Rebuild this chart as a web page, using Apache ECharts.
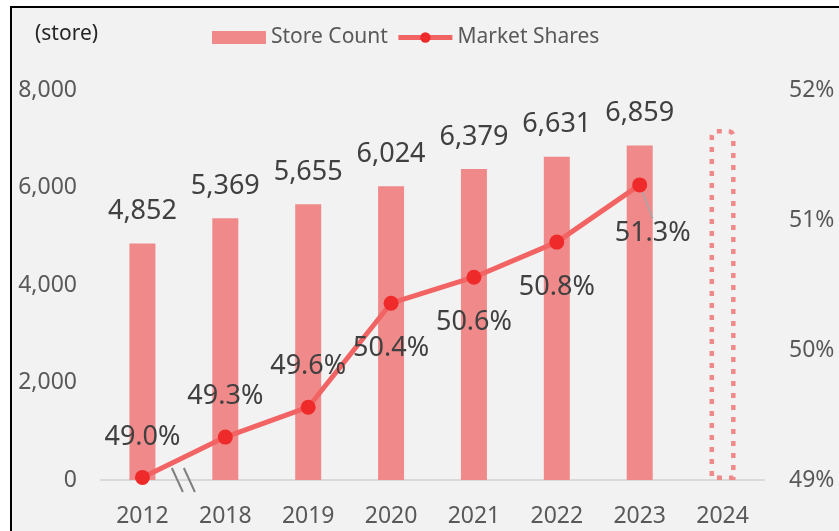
<!DOCTYPE html>
<html lang="en">
<head>
<meta charset="utf-8">
<title>Store Count and Market Shares</title>
<style>
    html, body { margin: 0; height: 100%; background: #fff; overflow: hidden; }
    .frame {
        position: absolute; left: 10px; top: 6px;
        width: 900px; height: 600px;
        background: #f2f2f2;
        border: 2px solid #000;
    }
    #main { position: absolute; left: 0; top: 0; width: 839px; height: 531px; }
</style>
<script src="https://cdn.jsdelivr.net/npm/echarts@6/dist/echarts.min.js"></script>
</head>
<body>
<div class="frame"></div>
<div id="main"></div>
<script>
    // data
    const years = ['2012', '2018', '2019', '2020', '2021', '2022', '2023', '2024'];
    const storeCount = [4852, 5369, 5655, 6024, 6379, 6631, 6859];
    const forecast2024 = 7200;   // dotted outline, no label
    const marketShares = [49.02, 49.33, 49.56, 50.36, 50.56, 50.83, 51.27];
    const leftTicks = [0, 8000, 2000];
    const rightTicks = [49, 52, 1];

    const barColor = '#f08a8a';
    const lineColor = '#f26464';
    const font = '"Noto Sans", sans-serif';

    var chart = echarts.init(document.getElementById('main'), null, { renderer: 'canvas' });

    const barData = storeCount.map(function (v) { return v; });
    barData.push({
        value: forecast2024,
        itemStyle: {
            color: 'rgba(0,0,0,0)',
            borderColor: barColor,
            borderWidth: 4.5,
            borderType: [5, 7],
            borderRadius: [5, 5, 0, 0]
        },
        label: { show: false }
    });

    // label placement per point: above for the first three, below for the rest
    const lineData = marketShares.map(function (v, i) {
        if (i < 3) {
            return { value: v, label: { position: 'top', distance: 18 } };
        }
        return { value: v, label: { position: 'bottom', distance: 23 } };
    });
    lineData[6].labelLine = { show: true, lineStyle: { color: '#a6a6a6', width: 1.5 } };

    const storeLabel = {
        type: 'text',
        left: 35,
        top: 24,
        style: { text: '(store)', fontSize: 21, fill: '#262626', fontFamily: font }
    };

    var option = {
        backgroundColor: 'transparent',
        textStyle: { fontFamily: font },
        animation: false,
        grid: { left: 101, right: 75, top: 90, bottom: 51 },
        legend: {
            top: 22,
            left: 207,
            itemWidth: 54,
            itemHeight: 13,
            itemGap: 8,
            textStyle: { fontSize: 21, color: '#595959', fontFamily: font },
            data: [
                { name: 'Store Count', icon: 'rect' },
                { name: 'Market Shares', lineStyle: { width: 5, color: lineColor } }
            ]
        },
        graphic: [storeLabel],
        xAxis: {
            type: 'category',
            data: years,
            axisLine: { lineStyle: { color: '#d9d9d9', width: 2 } },
            axisTick: { show: false },
            axisLabel: { color: '#595959', fontSize: 23, margin: 25, fontFamily: font }
        },
        yAxis: [{
            type: 'value',
            min: leftTicks[0], max: leftTicks[1], interval: leftTicks[2],
            splitLine: { show: false },
            axisLine: { show: false },
            axisTick: { show: false },
            axisLabel: {
                color: '#595959', fontSize: 23, margin: 24, fontFamily: font,
                formatter: function (v) { return v.toLocaleString('en-US'); }
            }
        }, {
            type: 'value',
            min: rightTicks[0], max: rightTicks[1], interval: rightTicks[2],
            splitLine: { show: false },
            axisLine: { show: false },
            axisTick: { show: false },
            axisLabel: {
                color: '#595959', fontSize: 23, margin: 25, fontFamily: font,
                formatter: '{value}%'
            }
        }],
        series: [{
            name: 'Store Count',
            type: 'bar',
            barWidth: 26,
            itemStyle: { color: barColor },
            label: {
                show: true,
                position: 'top',
                distance: 17,
                fontSize: 27,
                lineHeight: 30,
                color: '#404040',
                fontFamily: font,
                formatter: function (p) { return p.value.toLocaleString('en-US'); }
            },
            data: barData
        }, {
            name: 'Market Shares',
            type: 'line',
            yAxisIndex: 1,
            symbol: 'circle',
            symbolSize: 15,
            lineStyle: { color: lineColor, width: 5 },
            itemStyle: { color: '#ee2a2a' },
            label: {
                show: true,
                fontSize: 27,
                lineHeight: 30,
                color: '#404040',
                fontFamily: font,
                formatter: function (p) { return p.value.toFixed(1) + '%'; }
            },
            labelLine: { show: false },
            labelLayout: function (p) {
                if (p.dataIndex === 6) return { dx: 13, dy: 3 };
            },
            data: lineData
        }]
    };
    chart.setOption(option);

    // axis break marks between 2012 and 2018
    var x0 = chart.convertToPixel({ xAxisIndex: 0 }, years[0]);
    var x1 = chart.convertToPixel({ xAxisIndex: 0 }, years[1]);
    var y0 = chart.convertToPixel({ yAxisIndex: 0 }, 0);
    var mx = (x0 + x1) / 2;
    var br = { stroke: '#7f7f7f', lineWidth: 2 };
    chart.setOption({
        graphic: [storeLabel, {
            type: 'line', z: 10,
            shape: { x1: mx - 12, y1: y0 - 12, x2: mx - 1, y2: y0 + 12 },
            style: br
        }, {
            type: 'line', z: 10,
            shape: { x1: mx, y1: y0 - 12, x2: mx + 11, y2: y0 + 12 },
            style: br
        }]
    });
</script>
</body>
</html>
